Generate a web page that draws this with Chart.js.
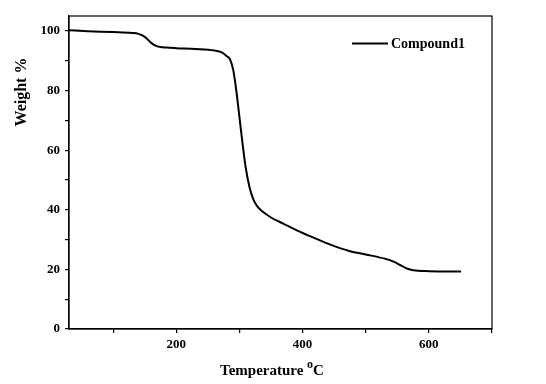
<!DOCTYPE html>
<html>
<head>
<meta charset="utf-8">
<script src="https://cdn.jsdelivr.net/npm/chart.js@4/dist/chart.umd.min.js"></script>
<style>
  html, body { margin: 0; padding: 0; background: #fff; }
  #wrap { width: 546px; height: 384px; }
</style>
</head>
<body>
<div id="wrap"><canvas id="tga" width="546" height="384"></canvas></div>
<script>
// TGA curve
const temperature = [30, 60, 100, 130, 140, 150, 160, 170, 185, 200, 230, 260, 272, 280, 285, 290, 295, 300, 305, 310, 316, 322, 328, 337, 350, 370, 390, 420, 445, 475, 500, 530, 545, 555, 565, 575, 600, 651];
const weight = [100.2, 99.9, 99.6, 99.3, 99.0, 98.0, 96.0, 94.8, 94.4, 94.2, 93.9, 93.4, 92.8, 91.5, 90.5, 87, 80, 71, 62, 54, 47.5, 43.5, 41.2, 39.3, 37.4, 35.3, 33.2, 30.4, 28.2, 26.1, 25.0, 23.6, 22.5, 21.4, 20.3, 19.7, 19.4, 19.3];
const seriesName = "Compound1";
const yTitle = "Weight %";
const xTicks = [100, 200, 300, 400, 500, 600, 700];
const xLabelled = [200, 400, 600];
const yTicks = [0, 10, 20, 30, 40, 50, 60, 70, 80, 90, 100];
const yLabelled = [0, 20, 40, 60, 80, 100];

const FONT = "'Liberation Serif', 'Times New Roman', serif";

// box round the plot, legend, y title and the x title with its raised "o"
const extras = {
  id: "extras",
  afterDraw(chart) {
    const { ctx, chartArea: a } = chart;
    ctx.save();
    ctx.strokeStyle = "#000";
    ctx.lineWidth = 1.2;
    ctx.strokeRect(a.left, a.top, a.right - a.left, a.bottom - a.top);

    // legend
    ctx.lineWidth = 2;
    ctx.beginPath();
    ctx.moveTo(352, 43.5);
    ctx.lineTo(388, 43.5);
    ctx.stroke();
    ctx.fillStyle = "#000";
    ctx.font = "bold 14px " + FONT;
    ctx.textBaseline = "middle";
    ctx.fillText(chart.data.datasets[0].label, 391, 44);

    // y title, sits high on the axis in the reference
    ctx.save();
    ctx.translate(22, 92);
    ctx.rotate(-Math.PI / 2);
    ctx.font = "bold 16px " + FONT;
    ctx.textAlign = "center";
    ctx.textBaseline = "middle";
    ctx.fillText(yTitle, 0, 0);
    ctx.restore();

    // x title
    const main = "Temperature ";
    ctx.font = "bold 15px " + FONT;
    const w1 = ctx.measureText(main).width;
    ctx.font = "bold 12px " + FONT;
    const w2 = ctx.measureText("o").width;
    ctx.font = "bold 15px " + FONT;
    const w3 = ctx.measureText("C").width;
    const x = 272 - (w1 + w2 + w3) / 2;
    ctx.textBaseline = "alphabetic";
    ctx.fillText(main, x, 375);
    ctx.font = "bold 12px " + FONT;
    ctx.fillText("o", x + w1, 368);
    ctx.font = "bold 15px " + FONT;
    ctx.fillText("C", x + w1 + w2, 375);
    ctx.restore();
  }
};

new Chart(document.getElementById("tga"), {
  type: "line",
  data: {
    datasets: [{
      label: seriesName,
      data: temperature.map((t, i) => ({ x: t, y: weight[i] })),
      borderColor: "#000",
      borderWidth: 2,
      pointRadius: 0,
      cubicInterpolationMode: "monotone",
      fill: false,
    }],
  },
  options: {
    responsive: false,
    animation: false,
    layout: { padding: { top: 16, right: 54, left: 0, bottom: 0 } },
    plugins: { legend: { display: false }, tooltip: { enabled: false } },
    scales: {
      x: {
        type: "linear",
        min: 30,
        max: 700,
        afterBuildTicks: (s) => { s.ticks = xTicks.map((v) => ({ value: v })); },
        afterFit: (s) => { s.height = 55; },
        ticks: {
          autoSkip: false,
          maxRotation: 0,
          padding: 4,
          color: "#000",
          font: { family: FONT, size: 13, weight: "bold" },
          callback: (v) => (xLabelled.includes(v) ? String(v) : ""),
        },
        grid: { drawOnChartArea: false, drawTicks: true, tickLength: 4, color: "#000", lineWidth: 1.2 },
        border: { color: "#000", width: 1.2 },
      },
      y: {
        min: 0,
        max: 105,
        afterBuildTicks: (s) => { s.ticks = yTicks.map((v) => ({ value: v })); },
        afterFit: (s) => { s.width = 69; },
        ticks: {
          autoSkip: false,
          padding: 5,
          color: "#000",
          font: { family: FONT, size: 13, weight: "bold" },
          callback: (v) => (yLabelled.includes(v) ? String(v) : ""),
        },
        grid: { drawOnChartArea: false, drawTicks: true, tickLength: 4, color: "#000", lineWidth: 1.2 },
        border: { color: "#000", width: 1.2 },
      },
    },
  },
  plugins: [extras],
});
</script>
</body>
</html>
